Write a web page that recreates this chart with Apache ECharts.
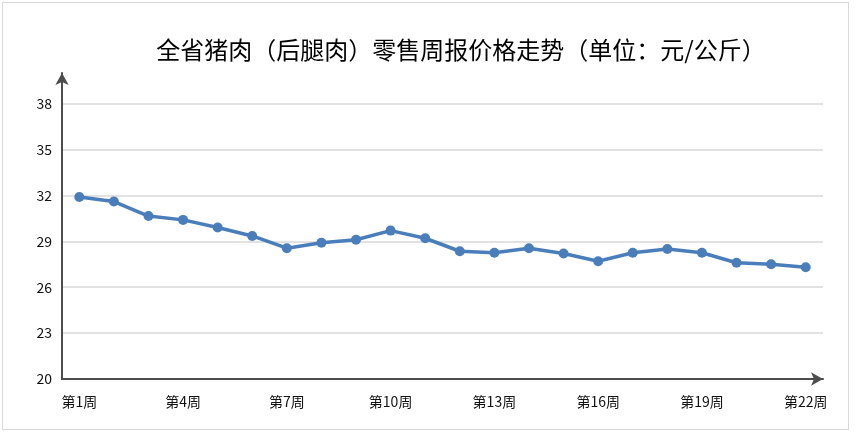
<!DOCTYPE html>
<html>
<head>
<meta charset="utf-8">
<script src="https://cdn.jsdelivr.net/npm/echarts@6/dist/echarts.min.js"></script>
<style>
html,body{margin:0;padding:0;background:#fff;}
#chart{position:absolute;left:0;top:0;width:860px;height:440px;}
#frame{position:absolute;left:2px;top:2px;width:845px;height:426px;border:1px solid #d9d9d9;pointer-events:none;}
</style>
</head>
<body>
<div id="chart"></div>
<div id="frame"></div>
<script>
const title = '全省猪肉（后腿肉）零售周报价格走势（单位：元/公斤）';
const weeks = ['第1周','第2周','第3周','第4周','第5周','第6周','第7周','第8周','第9周','第10周','第11周',
  '第12周','第13周','第14周','第15周','第16周','第17周','第18周','第19周','第20周','第21周','第22周'];
const prices = [31.9, 31.6, 30.65, 30.4, 29.9, 29.35, 28.55, 28.9, 29.1, 29.7, 29.2,
  28.35, 28.25, 28.55, 28.2, 27.7, 28.25, 28.5, 28.25, 27.6, 27.5, 27.3];
const yMin = 20, yMax = 40, yStep = 3;

const chart = echarts.init(document.getElementById('chart'), null, {renderer:'canvas'});
const font = '"Noto Sans CJK SC", "Microsoft YaHei", sans-serif';
chart.setOption({
  animation: false,
  backgroundColor: '#fff',
  title: {
    text: title,
    left: 456, top: 33, textAlign: 'center',
    textStyle: {fontFamily: font, fontSize: 24, fontWeight: 'normal', color: '#000'}
  },
  grid: {left: 62, right: 37, top: 73, bottom: 61, containLabel: false},
  xAxis: {
    type: 'category',
    data: weeks,
    boundaryGap: true,
    axisLine: {show: true, symbol: ['none','arrow'], symbolSize: [10, 12], symbolOffset: [0, 0],
      lineStyle: {color: '#4d4d4d', width: 2}},
    axisTick: {show: false},
    axisLabel: {interval: 2, color: '#111', fontFamily: font, fontSize: 14, margin: 16},
    splitLine: {show: false}
  },
  yAxis: {
    type: 'value',
    min: yMin, max: yMax, interval: yStep,
    axisLine: {show: true, symbol: ['none','arrow'], symbolSize: [10, 12],
      lineStyle: {color: '#4d4d4d', width: 2}},
    axisTick: {show: false},
    axisLabel: {color: '#111', fontFamily: font, fontSize: 14, margin: 10, showMaxLabel: false},
    splitLine: {show: true, showMaxLine: false, lineStyle: {color: '#d9d9d9', width: 1.5}}
  },
  series: [{
    type: 'line',
    data: prices,
    symbol: 'circle',
    symbolSize: 10,
    lineStyle: {color: '#4A7EBB', width: 3.5},
    itemStyle: {color: '#4A7EBB'}
  }]
});
</script>
</body>
</html>
